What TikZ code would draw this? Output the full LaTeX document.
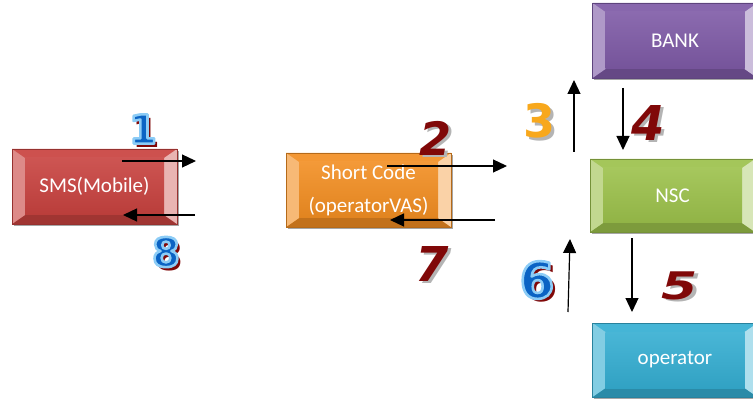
\documentclass[tikz,border=0pt]{standalone}
\usepackage{fontspec}
\usepackage{graphicx}
\setmainfont{Carlito}
\newfontfamily\numfont{DejaVu Sans}
\usetikzlibrary{arrows.meta,shadows,calc}
\definecolor{smsred}{HTML}{C8423F}
\definecolor{scorange}{HTML}{F28E22}
\definecolor{bankpurple}{HTML}{7E5AA6}
\definecolor{nscgreen}{HTML}{9CC14B}
\definecolor{opblue}{HTML}{35AED2}
\definecolor{wdred}{HTML}{800808}
\definecolor{wdblue}{HTML}{0B63C4}
\definecolor{wdgray}{HTML}{B4B4B4}
\definecolor{wdorange}{HTML}{F8A81C}
\newcommand\olay[3]{\makebox[0pt][l]{\raisebox{#2}[0pt][0pt]{\kern#1 #3}}}
% stroked (outlined) glyph: fill current colour, stroke light blue
\newcommand\outlined[1]{\special{pdf:literal direct 2 Tr 2.6 w 1 j 0.55 0.80 0.965 RG}#1\special{pdf:literal direct 0 Tr 1 w}}
\newcommand\bluenum[1]{%
  \olay{3.5pt}{-3.5pt}{\textcolor{wdred}{#1}}%
  \textcolor{wdblue}{\outlined{#1}}}
\newcommand\graynum[2]{%
  \olay{3pt}{-2.5pt}{\textcolor{wdgray}{#2}}%
  \textcolor{#1}{#2}}
\tikzset{
  bevelbox/.style={
    rectangle, fill=#1, draw=#1!75!black, line width=0.5pt,
    minimum width=165pt, minimum height=75pt, inner sep=0pt,
    text=white, align=center, font=\fontsize{21}{33}\selectfont,
    drop shadow={shadow xshift=1.5pt, shadow yshift=-2pt, opacity=0.35, fill=black},
    path picture={
      \coordinate (bNW) at (path picture bounding box.north west);
      \coordinate (bNE) at (path picture bounding box.north east);
      \coordinate (bSW) at (path picture bounding box.south west);
      \coordinate (bSE) at (path picture bounding box.south east);
      \coordinate (iNW) at ($(bNW)+(13pt,-9pt)$);
      \coordinate (iNE) at ($(bNE)+(-13pt,-9pt)$);
      \coordinate (iSW) at ($(bSW)+(13pt,9pt)$);
      \coordinate (iSE) at ($(bSE)+(-13pt,9pt)$);
      \fill[#1!92!white] (bNW) -- (bNE) -- (iNE) -- (iNW) -- cycle;
      \fill[#1!80!black] (bSW) -- (bSE) -- (iSE) -- (iSW) -- cycle;
      \fill[#1!62!white] (bNW) -- (bSW) -- (iSW) -- (iNW) -- cycle;
      \fill[#1!40!white] (bNE) -- (bSE) -- (iSE) -- (iNE) -- cycle;
      \shade[top color=#1!90!white, bottom color=#1!93!black] (iNW) rectangle (iSE);
    }
  },
  flowarrow/.style={-{Triangle[length=14pt,width=13pt]}, line width=1.2pt, black},
  bluedigit/.style={inner sep=0pt, font=\numfont\bfseries\fontsize{#1}{#1}\selectfont},
  reddigit/.style={inner sep=0pt, font=\numfont\bfseries\itshape\fontsize{#1}{#1}\selectfont}
}
\begin{document}
\begin{tikzpicture}[x=1pt,y=-1pt]
\useasboundingbox (0,0) rectangle (753,401);
\begin{scope}
\clip (0,0) rectangle (753,401);
% boxes
\node[bevelbox=smsred] (sms) at (94.5,186.5) {SMS(Mobile)};
\node[bevelbox=scorange, minimum height=74pt] (sc) at (368.5,190) {\raisebox{-2pt}{Short Code}\\\raisebox{-2pt}{(operatorVAS)}};
\node[bevelbox=bankpurple] (bank) at (675,40.5) {\raisebox{-1.5pt}{BANK}};
\node[bevelbox=nscgreen, minimum height=73pt] (nsc) at (672.5,195.5) {NSC};
\node[bevelbox=opblue, minimum height=74pt] (op) at (675,360) {operator};
% arrow end points
\coordinate (a1s) at (122,161); \coordinate (a1e) at (196,161);
\coordinate (a8s) at (195,215); \coordinate (a8e) at (123,215);
\coordinate (a2s) at (387,166); \coordinate (a2e) at (507,166);
\coordinate (a7s) at (495,220); \coordinate (a7e) at (390,220);
\coordinate (a3s) at (574,152); \coordinate (a3e) at (574,80);
\coordinate (a4s) at (623,88);  \coordinate (a4e) at (623,150);
\coordinate (a6s) at (568,312); \coordinate (a6e) at (570,239);
\coordinate (a5s) at (632,238); \coordinate (a5e) at (632,312);
\draw[flowarrow] (a1s) -- (a1e);
\draw[flowarrow] (a8s) -- (a8e);
\draw[flowarrow] (a2s) -- (a2e);
\draw[flowarrow] (a7s) -- (a7e);
\draw[flowarrow] (a3s) -- (a3e);
\draw[flowarrow] (a4s) -- (a4e);
\draw[flowarrow] (a6s) -- (a6e);
\draw[flowarrow] (a5s) -- (a5e);
% step numbers
\node[bluedigit=40] (n1) at (143,129) {\bluenum{1}};
\node[reddigit=46] (n2) at (435,138) {\graynum{wdred}{2}};
\node[bluedigit=46] (n3) at (539,121) {\graynum{wdorange}{3}};
\node[reddigit=48] (n4) at (648,123) {\graynum{wdred}{4}};
\node[reddigit=40] (n5) at (680,286) {\scalebox{1.3}[0.95]{\graynum{wdred}{5}}};
\node[bluedigit=50] (n6) at (537,280) {\bluenum{6}};
\node[reddigit=48] (n7) at (432,264) {\graynum{wdred}{7}};
\node[bluedigit=40] (n8) at (166,252) {\bluenum{8}};
\end{scope}
\end{tikzpicture}
\end{document}
